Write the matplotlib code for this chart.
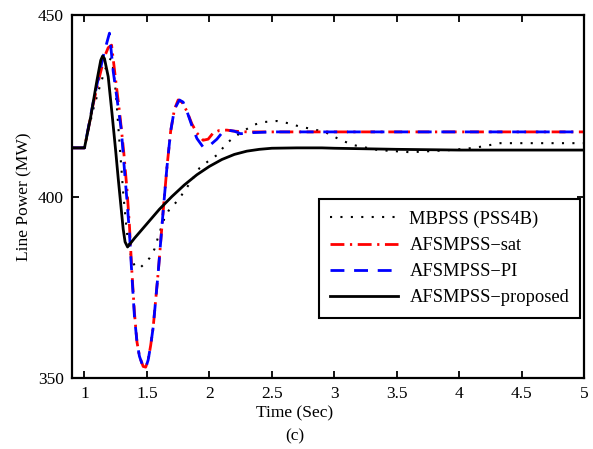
import matplotlib
matplotlib.use('Agg')
import matplotlib.pyplot as plt

plt.rcParams['font.family'] = ['Liberation Serif', 'DejaVu Serif']

# MBPSS (PSS4B) - dotted
t_mb = [0.9, 1.0, 1.07, 1.12, 1.16, 1.19, 1.21, 1.225, 1.25, 1.28, 1.31, 1.34, 1.37, 1.4,
        1.44, 1.48, 1.52, 1.56, 1.6, 1.64, 1.68, 1.75, 1.85, 1.92, 2.0, 2.06, 2.14, 2.2,
        2.35, 2.43, 2.54, 2.63, 2.73, 2.84, 2.94, 3.05, 3.15, 3.35, 3.61, 3.93, 4.12, 4.33,
        4.6, 5.0]
p_mb = [413.4, 413.4, 424, 430, 434.5, 437, 438, 436.5, 429, 415, 401, 390, 384, 381,
        380.2, 381.5, 383, 385.5, 390, 394, 396.5, 399, 404, 407.8, 410, 411.4, 414.7, 416.4,
        419.7, 420.5, 420.8, 420.2, 419.2, 418.5, 417.5, 415.6, 414.2, 412.8, 412.2, 412.8,
        413.4, 414.7, 414.7, 414.7]

# AFSMPSS-sat - dash-dot red
t_sat = [0.9, 1.0, 1.07, 1.12, 1.16, 1.19, 1.217, 1.25, 1.285, 1.315, 1.34, 1.36, 1.38,
         1.4, 1.42, 1.44, 1.47, 1.49, 1.51, 1.53, 1.55, 1.59, 1.63, 1.66, 1.69, 1.72, 1.75,
         1.78, 1.82, 1.86, 1.9, 1.95, 1.99, 2.03, 2.08, 2.14, 2.2, 2.3, 2.5, 3.0, 4.0, 5.0]
p_sat = [413.4, 413.4, 425.5, 433, 438.5, 441, 441.7, 432, 422, 412, 402, 392, 379,
         368, 360, 356, 353.2, 353, 355, 359, 364, 379, 396, 408, 418, 424, 426.6,
         426, 423.5, 420, 417.5, 415.5, 415.8, 417.5, 418.2, 418.3, 418, 417.8, 417.8,
         417.8, 417.8, 417.8]

# AFSMPSS-PI - dashed blue
t_pi = [0.9, 1.0, 1.07, 1.12, 1.16, 1.2, 1.23, 1.265, 1.295, 1.32, 1.34, 1.36, 1.38, 1.4,
        1.42, 1.44, 1.47, 1.49, 1.51, 1.53, 1.55, 1.59, 1.63, 1.66, 1.69, 1.72, 1.76, 1.79,
        1.82, 1.86, 1.9, 1.95, 2.0, 2.06, 2.1, 2.14, 2.2, 2.25, 2.35, 2.5, 3.0, 4.0, 5.0]
p_pi = [413.4, 413.4, 426, 434, 440, 445, 434.5, 425.8, 418.3, 407.3, 399, 390, 378, 367,
        360, 356, 353, 352.8, 355, 359, 364, 379, 396, 408, 418, 424, 426.6, 426,
        423.5, 419.5, 416, 413.6, 414, 415.8, 417.5, 418.3, 418, 417.3, 417.6, 417.8,
        417.8, 417.8, 417.8]

# AFSMPSS-proposed - solid black
t_pr = [0.9, 1.0, 1.05, 1.1, 1.13, 1.145, 1.16, 1.19, 1.22, 1.25, 1.27, 1.29, 1.3, 1.31,
        1.325, 1.345, 1.4, 1.5, 1.6, 1.7, 1.8, 1.9, 2.0, 2.1, 2.2, 2.3, 2.4, 2.5, 2.7,
        2.9, 3.0, 3.5, 4.0, 4.5, 5.0]
p_pr = [413.4, 413.4, 422, 432, 437.5, 438.7, 438, 433, 423, 412.5, 405, 398, 394.5, 391,
        387.5, 386.1, 388.5, 392.5, 396.5, 400, 403.2, 406, 408.3, 410.2, 411.6, 412.5,
        413, 413.3, 413.4, 413.4, 413.3, 413, 412.8, 412.8, 412.8]

x_ticks = [1, 1.5, 2, 2.5, 3, 3.5, 4, 4.5, 5]
x_ticklabels = ['1', '1.5', '2', '2.5', '3', '3.5', '4', '4.5', '5']
y_ticks = [350, 400, 450]

fig = plt.figure(figsize=(5.93, 4.49), dpi=100)
ax = fig.add_axes([0.1214, 0.158, 0.8636, 0.8086])

ax.plot(t_mb, p_mb, color='black', linestyle=(0, (1, 4)), linewidth=1.5,
        label='MBPSS (PSS4B)')
ax.plot(t_sat, p_sat, color='#ff0000', linestyle=(0, (5, 2, 0.8, 2)), linewidth=2,
        label='AFSMPSS\u2212sat')
ax.plot(t_pi, p_pi, color='#0000ff', linestyle=(0, (5, 3.5)), linewidth=2,
        label='AFSMPSS\u2212PI')
ax.plot(t_pr, p_pr, color='black', linestyle='-', linewidth=2,
        label='AFSMPSS\u2212proposed')

ax.set_xlim(0.9, 5)
ax.set_ylim(350, 450)
ax.set_xticks(x_ticks)
ax.set_xticklabels(x_ticklabels)
ax.set_yticks(y_ticks)
ax.tick_params(direction='in', length=5, width=1.3, top=True, right=True,
               labelsize=12.5, pad=6)
for s in ax.spines.values():
    s.set_linewidth(1.6)

ax.set_ylabel('Line Power (MW)', fontsize=12.5, labelpad=4)
fig.text(0.497, 0.08, 'Time (Sec)', ha='center', va='center', fontsize=12.5)
fig.text(0.497, 0.029, '(c)', ha='center', va='center', fontsize=12.5)

leg = ax.legend(loc='center', bbox_to_anchor=(0.482, 0.16, 0.51, 0.339), mode='expand',
                borderaxespad=0, fontsize=13.3, handlelength=3.7, labelspacing=0.5,
                borderpad=0.6, fancybox=False, edgecolor='black', framealpha=1,
                handletextpad=0.6)
leg.get_frame().set_linewidth(1.5)

fig.savefig('out.png', dpi=100)
